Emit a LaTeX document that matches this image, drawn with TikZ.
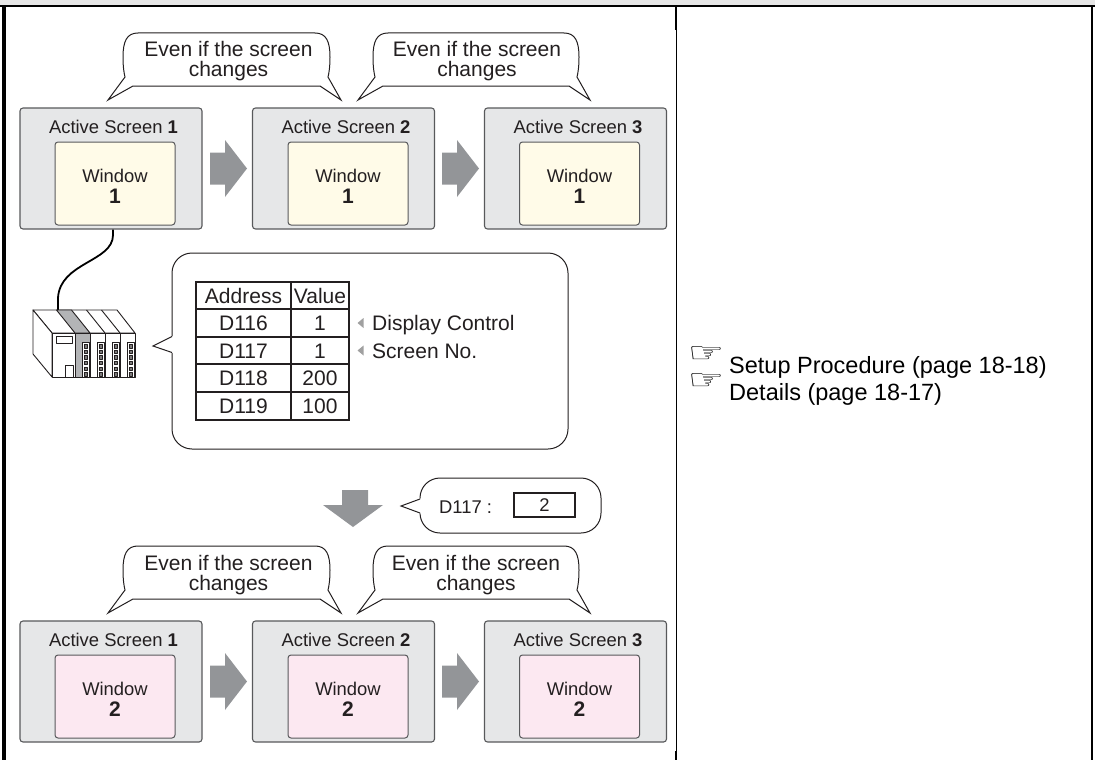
\documentclass[tikz,border=0pt]{standalone}
\usepackage{fontspec}
\setmainfont{Liberation Sans}
\newfontfamily\symfont{DejaVu Sans}
\definecolor{scrfill}{HTML}{E6E7E8}
\definecolor{scrline}{HTML}{58595B}
\definecolor{yel}{HTML}{FFFBE8}
\definecolor{pnk}{HTML}{FCE8F1}
\definecolor{arrgray}{HTML}{939598}
\definecolor{txt}{HTML}{231F20}
\definecolor{bubline}{HTML}{231F20}
\definecolor{topband}{HTML}{E6E6E6}
\definecolor{tri}{HTML}{A0A0A0}
\definecolor{modgray}{HTML}{B3B4B6}
\newcommand{\fatright}[2]{%
  \fill[arrgray] (#1,#2-16) -- (#1+15,#2-16) -- (#1+15,#2-28.5) -- (#1+37,#2)
    -- (#1+15,#2+28.5) -- (#1+15,#2+16) -- (#1,#2+16) -- cycle;}
\newcommand{\evenbub}[3]{% left, right, top
  \draw[bub] (#1+15,#3) -- (#2-15,#3)
    .. controls (#2-4,#3) and (#2,#3+8) .. (#2,#3+24)
    .. controls (#2,#3+34) and (#2-1,#3+40) .. (#2-2,#3+44)
    -- (#2+11,#3+67) -- (#2-10,#3+53)
    -- (#1+10,#3+53) -- (#1-15,#3+67) -- (#1+2,#3+44)
    .. controls (#1+1,#3+40) and (#1,#3+34) .. (#1,#3+24)
    .. controls (#1,#3+8) and (#1+4,#3) .. (#1+15,#3) -- cycle;}
\begin{document}
\begin{tikzpicture}[x=1pt,y=-1pt,
  screen/.style={draw=scrline, fill=scrfill, line width=1.1pt, rounded corners=3pt,
    minimum width=182pt, minimum height=121pt, inner sep=0pt},
  winA/.style={draw=scrline, fill=yel, line width=1pt, rounded corners=3pt,
    minimum width=120pt, minimum height=83pt, inner sep=0pt},
  winB/.style={winA, fill=pnk},
  stitle/.style={anchor=base, inner sep=0pt, text=txt, font=\fontsize{18.4}{21}\selectfont},
  wnum/.style={anchor=base, inner sep=0pt, text=txt, font=\fontsize{21}{22}\selectfont\bfseries},
  btext/.style={anchor=base, inner sep=0pt, text=txt, font=\fontsize{21}{21}\selectfont},
  ttext/.style={anchor=base, inner sep=0pt, text=txt, font=\fontsize{21}{21}\selectfont},
  rtext/.style={anchor=base west, inner sep=0pt, text=black, font=\fontsize{23.5}{27}\selectfont},
  hand/.style={inner sep=0pt, text=black, font=\symfont\fontsize{28}{28}\selectfont},
  bub/.style={draw=bubline, line width=1pt, fill=white},
  tabline/.style={draw=txt, line width=1.2pt},
  plc/.style={draw=txt, line width=0.9pt, line join=round},
  cable/.style={draw=black, line width=1.8pt},
  frame/.style={draw=black}
]
\useasboundingbox (0,0) rectangle (1095,760);
% frame
\fill[topband] (0,0) rectangle (1095,5);
\draw[frame, line width=2.2pt] (0,6) -- (1095,6);
\draw[frame, line width=4pt] (4.3,6) -- (4.3,760);
\draw[frame, line width=2.4pt] (1092,6) -- (1092,760);
\draw[frame, line width=1.2pt] (676.5,6) -- (676.5,760);
\draw[frame, line width=2.4pt] (676,6) -- (676,30);
\draw[frame, line width=2.4pt] (676,751) -- (676,760);

% speech bubbles "Even if the screen changes"
\foreach \dy in {0,513} {
  \evenbub{123}{330}{33+\dy}
  \evenbub{373}{579}{33+\dy}
}
\node[btext] (ea1) at (228.5,57) {Even if the screen};
\node[btext] (ea2) at (228.5,77) {changes};
\node[btext] (eb1) at (477,57) {Even if the screen};
\node[btext] (eb2) at (477,77) {changes};
\node[btext] (ec1) at (228.5,570) {Even if the screen};
\node[btext] (ec2) at (228.5,590) {changes};
\node[btext] (ed1) at (476,570) {Even if the screen};
\node[btext] (ed2) at (476,590) {changes};

% screens
\foreach \rw/\dy/\ws/\wn in {a/0/winA/1,b/513/winB/2} {
  \foreach \k/\sx/\wx in {1/111/115, 2/343.5/348, 3/575.5/579.5} {
    \node[screen] (s\rw\k) at (\sx,168.5+\dy) {};
    \node[stitle] (t\rw\k) at (\sx+2.5,133+\dy) {Active Screen \textbf{\k}};
    \node[\ws] (w\rw\k) at (\wx,183.5+\dy) {};
    \node[stitle] (wl\rw\k) at (\wx,182+\dy) {Window};
    \node[wnum] (wn\rw\k) at (\wx,203.5+\dy) {\wn};
  }
  \fatright{210}{168.5+\dy}
  \fatright{442}{168.5+\dy}
}

% cable to PLC
\coordinate (plcin) at (58,310);
\draw[cable] ([xshift=2pt]sa1.south) -- (113,235) .. controls (113,262) and (60,262) .. (58,298) -- (plcin);

% PLC
\draw[plc, fill=white] (33,310) -- (117,310) -- (135,333) -- (52,333) -- cycle;
\draw[plc, fill=white] (33,310) -- (52,333) -- (52,377) -- (33,354) -- cycle;
\draw[plc, fill=white] (52,333) rectangle (135,377);
\draw[plc, fill=modgray] (75,333) -- (90,333) -- (71.5,310) -- (56.5,310) -- cycle;
\draw[plc, fill=modgray] (75,333) rectangle (90,377);
\foreach \m in {105,120} {
  \draw[plc] (\m,333) -- (\m-18.5,310);
  \draw[plc] (\m,333) -- (\m,377);
}
\draw[plc] (56,336) rectangle (72,343);
\draw[plc] (65,365) rectangle (73,377);
\foreach \m in {75,90,105,120} {
  \draw[plc, fill=white, line width=0.8pt] (\m+7,342) rectangle (\m+14,377);
  \foreach \j in {0,...,5} {
    \draw[plc, line width=0.6pt, fill=txt!60] (\m+8.8,344.5+\j*5.6) rectangle (\m+12.2,347.8+\j*5.6);
  }
}

% big bubble with table
\node[bub, rounded corners=20pt, minimum width=396pt, minimum height=196pt, inner sep=0pt] (big) at (370,351) {};
\fill[white] (174,335.5) -- (153,346) -- (174,353.5) -- cycle;
\draw[bub, fill=none, line join=miter] (172,336.5) -- (153,346) -- (172,352.5);

\draw[tabline] (196,282) rectangle (349,420);
\foreach \yy in {309,337,364,392} { \draw[tabline] (196,\yy) -- (349,\yy); }
\draw[tabline] (291,282) -- (291,420);
\node[ttext] (h1) at (243.5,303) {Address};
\node[ttext] (h2) at (320,303) {Value};
\node[ttext] (a1) at (243.5,330.5) {D116};
\node[ttext] (v1) at (320,330.5) {1};
\node[ttext] (a2) at (243.5,358) {D117};
\node[ttext] (v2) at (320,358) {1};
\node[ttext] (a3) at (243.5,385.5) {D118};
\node[ttext] (v3) at (320,385.5) {200};
\node[ttext] (a4) at (243.5,413.5) {D119};
\node[ttext] (v4) at (320,413.5) {100};
\fill[tri] (357.5,323) -- (363.5,318) -- (363.5,328) -- cycle;
\fill[tri] (357.5,350.5) -- (363.5,345.5) -- (363.5,355.5) -- cycle;
\node[ttext, anchor=base west] (dc) at (372,330.5) {Display Control};
\node[ttext, anchor=base west] (sn) at (372,358) {Screen No.};

% down arrow
\fill[arrgray] (342,490) -- (368,490) -- (368,505) -- (383,505) -- (353,527) -- (323,505) -- (342,505) -- cycle;

% small bubble
\node[bub, rounded corners=20pt, minimum width=181pt, minimum height=55pt, inner sep=0pt] (small) at (510.5,505.5) {};
\fill[white] (422,498) -- (401,506) -- (422,514) -- cycle;
\draw[bub, fill=none, line join=miter] (420,499) -- (401,506) -- (420,513);
\node[stitle, anchor=base west] (d117) at (439,513) {D117 :};
\node[draw=txt, line width=1.1pt, minimum width=61pt, minimum height=24pt, inner sep=0pt,
  text=txt, font=\fontsize{18.4}{21}\selectfont] (val) at (544.5,505) {2};

% references
\node[hand] (hand1) at (706,355) {\scalebox{1.45}[1.0]{☞}};
\node[rtext] (ref1) at (729,373) {Setup Procedure (page 18-18)};
\node[hand] (hand2) at (706,382) {\scalebox{1.45}[1.0]{☞}};
\node[rtext] (ref2) at (729,400) {Details (page 18-17)};
\end{tikzpicture}
\end{document}
